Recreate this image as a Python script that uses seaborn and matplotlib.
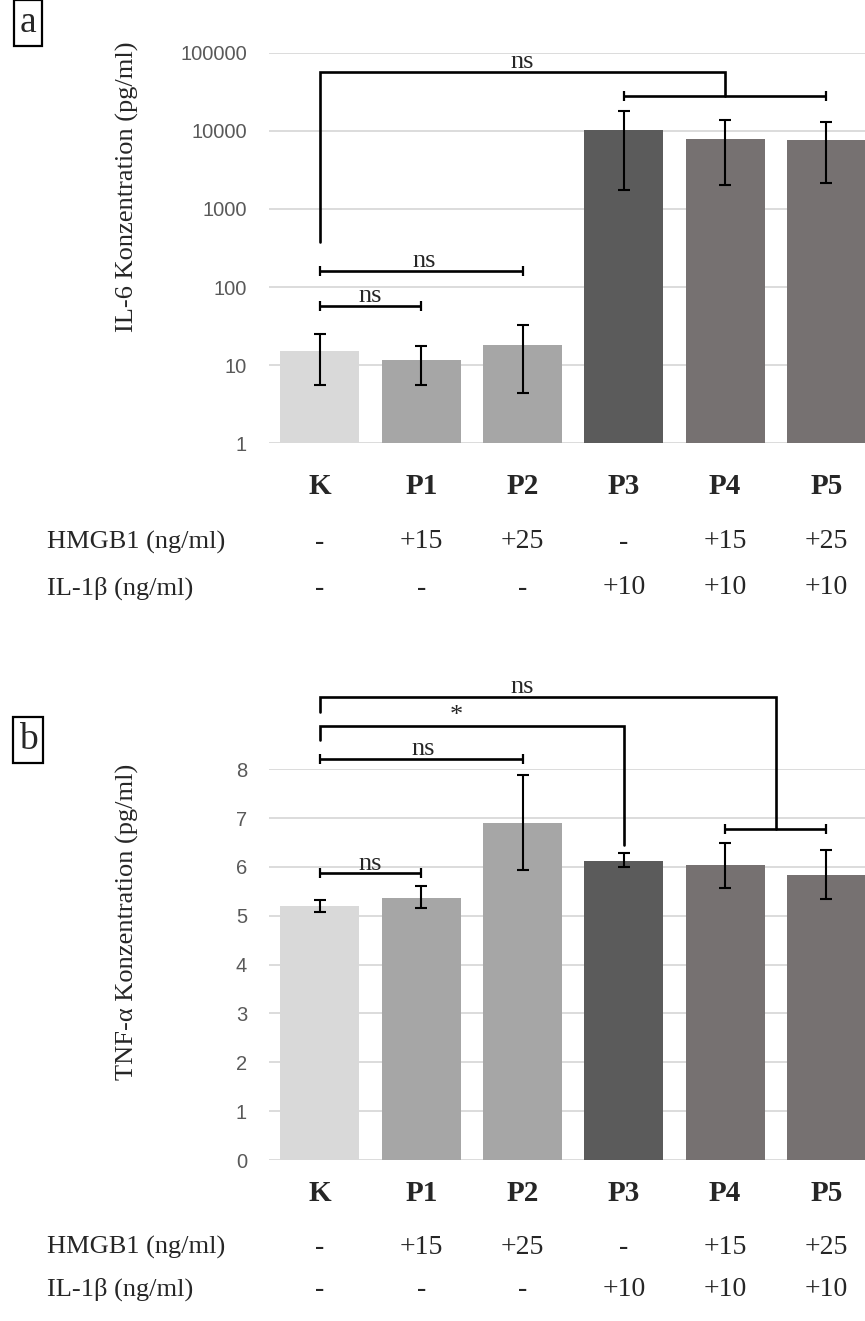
import matplotlib
matplotlib.use("Agg")
import matplotlib.pyplot as plt
from matplotlib.ticker import FixedLocator, NullLocator
import seaborn as sns

# data
categories = ["K", "P1", "P2", "P3", "P4", "P5"]
bar_colors = ["#d9d9d9", "#a6a6a6", "#a6a6a6", "#5b5b5b", "#767171", "#767171"]

il6_mean = [15.2, 11.5, 18.0, 10200, 7930, 7550]
il6_low = [5.5, 5.5, 4.45, 1750, 2040, 2170]
il6_high = [24.8, 17.8, 32.7, 17900, 13600, 12970]

tnf_mean = [5.20, 5.36, 6.90, 6.13, 6.05, 5.83]
tnf_low = [5.07, 5.16, 5.93, 6.00, 5.57, 5.35]
tnf_high = [5.32, 5.62, 7.89, 6.28, 6.50, 6.35]

hmgb1_labels = ["-", "+15", "+25", "-", "+15", "+25"]
il1b_labels = ["-", "-", "-", "+10", "+10", "+10"]

il6_ticks = [1, 10, 100, 1000, 10000, 100000]
tnf_ticks = [0, 1, 2, 3, 4, 5, 6, 7, 8]

sns.set_style("white")
plt.rcParams["font.family"] = ["Liberation Serif", "DejaVu Serif"]

W, H = 865, 1321
fig = plt.figure(figsize=(W / 100, H / 100), dpi=100)

ax_left = 269.3
ax_w = 607.8
ax_a = fig.add_axes([ax_left / W, 1 - 443.3 / H, ax_w / W, 390.6 / H])
ax_b = fig.add_axes([ax_left / W, 1 - 1160 / H, ax_w / W, 390.7 / H])

tick_font = dict(family="Liberation Sans", size=14.5, color="#595959")
grid_col = "#d9d9d9"
LW_BR = 1.9


def style_axes(ax, ticks, labels):
    ax.set_xlim(-0.5, 5.5)
    ax.yaxis.set_major_locator(FixedLocator(ticks))
    ax.yaxis.set_minor_locator(NullLocator())
    ax.set_yticklabels(labels, fontdict=tick_font)
    ax.tick_params(axis="y", length=0, pad=16)
    ax.set_xticks([])
    ax.set_xlabel("")
    ax.set_ylabel("")
    ax.yaxis.grid(True, color=grid_col, lw=1.3)
    ax.set_axisbelow(True)
    for s in ax.spines.values():
        s.set_visible(False)


def draw_bars(ax, means, lo, hi):
    sns.barplot(x=categories, y=means, hue=categories, palette=bar_colors,
                legend=False, width=0.78, saturation=1, errorbar=None,
                linewidth=0, ax=ax)
    xs = list(range(len(categories)))
    err = [[m - l for m, l in zip(means, lo)], [h - m for m, h in zip(means, hi)]]
    ax.errorbar(xs, means, yerr=err, fmt="none", ecolor="black",
                elinewidth=1.5, capsize=4, capthick=1.5, zorder=5)


def hbar(ax, x1, x2, y, caps=True):
    ax.plot([x1, x2], [y, y], color="black", lw=LW_BR, clip_on=False,
            solid_capstyle="butt", zorder=6)
    if caps:
        ax.plot([x1, x2], [y, y], ls="none", marker="|", ms=7.7, mew=1.6,
                color="black", clip_on=False, zorder=6)


def label(ax, x, y, s):
    ax.annotate(s, (x, y), xytext=(0, -1), textcoords="offset points",
                ha="center", va="bottom", fontsize=19, annotation_clip=False)


# panel a: IL-6 on log axis
ax_a.set_yscale("log")
draw_bars(ax_a, il6_mean, il6_low, il6_high)
ax_a.set_ylim(1, 100000)
style_axes(ax_a, il6_ticks, [str(t) for t in il6_ticks])

hbar(ax_a, 0, 1, 57.8)
label(ax_a, 0.5, 57.8, "ns")
hbar(ax_a, 0, 2, 162)
label(ax_a, 1.03, 162, "ns")
hbar(ax_a, 3, 5, 27900)
ax_a.plot([0, 0, 4, 4], [381, 56600, 56600, 27900], color="black", lw=LW_BR,
          clip_on=False, solid_joinstyle="miter", zorder=6)
label(ax_a, 2.0, 56600, "ns")

# panel b: TNF-alpha linear axis
draw_bars(ax_b, tnf_mean, tnf_low, tnf_high)
ax_b.set_ylim(0, 8)
style_axes(ax_b, tnf_ticks, [str(t) for t in tnf_ticks])

hbar(ax_b, 0, 1, 5.87)
label(ax_b, 0.5, 5.87, "ns")
hbar(ax_b, 0, 2, 8.21)
label(ax_b, 1.02, 8.21, "ns")
ax_b.plot([0, 0, 3, 3], [8.6, 8.89, 8.89, 6.44], color="black", lw=LW_BR,
          clip_on=False, solid_joinstyle="miter", zorder=6)
label(ax_b, 1.35, 8.89, "*")
hbar(ax_b, 4, 5, 6.77)
ax_b.plot([0, 0, 4.5, 4.5], [9.18, 9.49, 9.49, 6.77], color="black", lw=LW_BR,
          clip_on=False, solid_joinstyle="miter", zorder=6)
label(ax_b, 2.0, 9.49, "ns")

# category rows under each panel
rows = [
    (ax_a, 443.3, 486, 542, 588),
    (ax_b, 1160, 1193, 1247, 1289),
]
for ax, bottom, y_cat, y_h, y_i in rows:
    trans = ax.get_xaxis_transform()
    hgt = 390.6
    for i, c in enumerate(categories):
        ax.text(i, (bottom - y_cat) / hgt, c, transform=trans, ha="center",
                va="center", fontsize=21, fontweight="bold", clip_on=False)
        ax.text(i, (bottom - y_h) / hgt, hmgb1_labels[i], transform=trans,
                ha="center", va="center", fontsize=20, clip_on=False)
        ax.text(i, (bottom - y_i) / hgt, il1b_labels[i], transform=trans,
                ha="center", va="center", fontsize=20, clip_on=False)
    fig.text(47 / W, 1 - y_h / H, "HMGB1 (ng/ml)", ha="left", va="center",
             fontsize=19)
    fig.text(47 / W, 1 - y_i / H, "IL-1β (ng/ml)", ha="left", va="center",
             fontsize=19)

# y axis titles
fig.text(127 / W, 1 - 187 / H, "IL-6 Konzentration (pg/ml)", rotation=90,
         ha="center", va="center", fontsize=19)
fig.text(127 / W, 1 - 922 / H, "TNF-α Konzentration (pg/ml)", rotation=90,
         ha="center", va="center", fontsize=19)

# panel letters
box = dict(boxstyle="square,pad=0.15", fc="white", ec="black", lw=1.6)
fig.text(28 / W, 1 - 23 / H, "a", ha="center", va="center", fontsize=27,
         bbox=box)
fig.text(28 / W, 1 - 740 / H, "b", ha="center", va="center", fontsize=27,
         bbox=box)

fig.savefig("out.png", dpi=100)
